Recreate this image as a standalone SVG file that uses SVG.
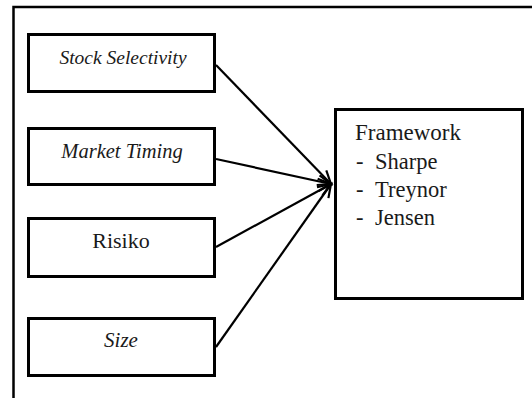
<svg xmlns="http://www.w3.org/2000/svg" width="532" height="398" viewBox="0 0 532 398">
<style>
.box{fill:#fff;stroke:#000;stroke-width:3}
.frame{fill:none;stroke:#000;stroke-width:2.5}
.c{fill:none;stroke:#000;stroke-width:2.2}
.t{font-family:'Liberation Serif','Times New Roman',serif;fill:#1a1a1a}
</style>
<defs>
<marker id="arr" markerUnits="userSpaceOnUse" markerWidth="20" markerHeight="20" refX="14" refY="7" orient="auto">
<path d="M1,1 L14,7 L1,13" fill="none" stroke="#000" stroke-width="2.2"/>
</marker>
</defs>
<path class="frame" d="M13.5,398 V7 H532"/>
<g id="connectors">
<line class="c" x1="216" y1="65" x2="331" y2="184" marker-end="url(#arr)"/>
<line class="c" x1="216" y1="159" x2="331" y2="184" marker-end="url(#arr)"/>
<line class="c" x1="216" y1="247" x2="331" y2="184" marker-end="url(#arr)"/>
<line class="c" x1="216" y1="347" x2="331" y2="184" marker-end="url(#arr)"/>
</g>
<g id="stock-selectivity">
<rect class="box" x="28.5" y="34.5" width="186" height="57"/>
<text class="t" x="123" y="64" font-size="19.5" font-style="italic" text-anchor="middle">Stock Selectivity</text>
</g>
<g id="market-timing">
<rect class="box" x="28.5" y="128.5" width="186" height="56"/>
<text class="t" x="122" y="158" font-size="20.5" font-style="italic" text-anchor="middle">Market Timing</text>
</g>
<g id="risiko">
<rect class="box" x="28.5" y="218.5" width="186" height="58"/>
<text class="t" x="121" y="248" font-size="22" text-anchor="middle">Risiko</text>
</g>
<g id="size">
<rect class="box" x="28.5" y="318.5" width="186" height="57"/>
<text class="t" x="121" y="347" font-size="21" font-style="italic" text-anchor="middle">Size</text>
</g>
<g id="framework">
<rect class="box" x="335.5" y="109.5" width="187" height="189"/>
<text class="t" x="355" y="140" font-size="23">Framework</text>
<text class="t" x="356" y="169" font-size="22.5">-</text><text class="t" x="375" y="169" font-size="22.5">Sharpe</text>
<text class="t" x="356" y="197" font-size="22.5">-</text><text class="t" x="375" y="197" font-size="22.5">Treynor</text>
<text class="t" x="356" y="225" font-size="22.5">-</text><text class="t" x="375" y="225" font-size="22.5">Jensen</text>
</g>
</svg>
